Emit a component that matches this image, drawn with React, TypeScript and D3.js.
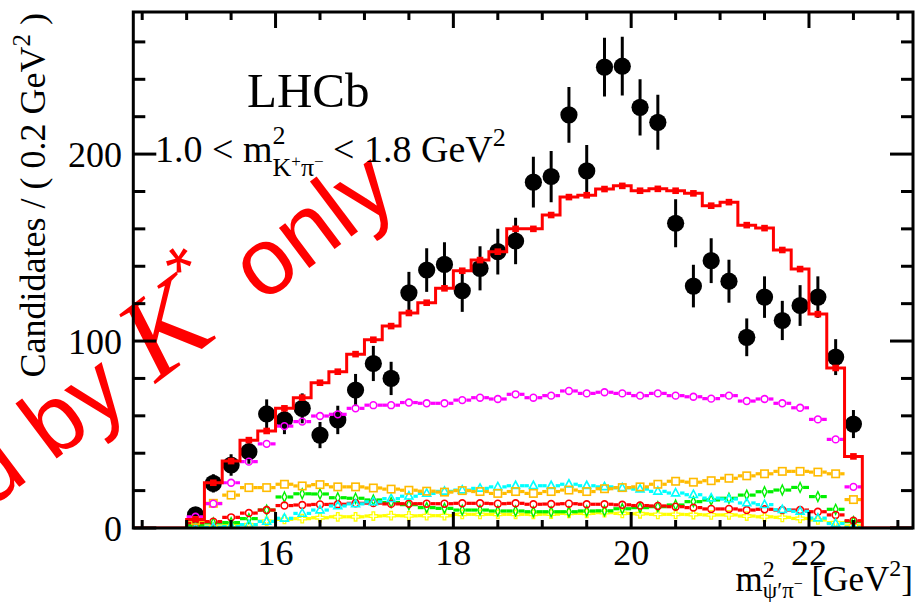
import React from 'react';
import * as d3 from 'd3';

const binCenters = [15.1, 15.3, 15.5, 15.7, 15.9, 16.1, 16.3, 16.5, 16.7, 16.9, 17.1, 17.3, 17.5, 17.7, 17.9, 18.1, 18.3, 18.5, 18.7, 18.9, 19.1, 19.3, 19.5, 19.7, 19.9, 20.1, 20.3, 20.5, 20.7, 20.9, 21.1, 21.3, 21.5, 21.7, 21.9, 22.1, 22.3, 22.5];
const binWidth = 0.2;

const dataCounts = [7, 23.9, 33.7, 40.8, 61, 57.8, 64, 49.7, 57.8, 73.8, 88, 80, 125.8, 138, 141, 126.9, 138.9, 147.8, 153.5, 185, 188, 221, 191, 246.5, 247, 225, 217, 163, 129.4, 143, 132, 102, 123.5, 111, 119, 123.5, 91.4, 55.6];
const dataErrors = [2.6, 4.9, 5.8, 6.4, 7.8, 7.6, 8, 7, 7.6, 8.6, 9.4, 8.9, 11.2, 11.7, 11.9, 11.3, 11.8, 12.2, 12.4, 13.6, 13.7, 14.9, 13.8, 15.7, 15.7, 15, 14.7, 12.8, 11.4, 12, 11.5, 10.1, 11.1, 10.5, 10.9, 11.1, 9.6, 7.5];

const totalFit = [4.6, 24.2, 35.8, 47, 51.9, 64, 69.7, 77.7, 83.6, 93, 100.7, 108, 115, 120.5, 128.2, 137.6, 143.3, 147.8, 160, 160, 167.4, 177, 178, 181.3, 183, 180.4, 181.4, 180.4, 179, 172.4, 174.3, 162, 160.4, 148.7, 138.5, 114.4, 85.6, 38.3];

const compMagenta = [6, 13, 24.2, 35.5, 45, 54.5, 56.9, 59.9, 60.8, 64, 65.7, 65.7, 67.1, 66.7, 66.7, 68.4, 69.7, 69, 71.5, 69.7, 70.8, 73.3, 72, 72.6, 72, 70.8, 72, 70.8, 70.2, 69.2, 70.8, 67.9, 69, 66.7, 64.3, 58.1, 47.4, 22];
const compOrange = [4, 13.2, 17.6, 21.6, 21.6, 23.4, 22.5, 23.2, 22, 22, 21.4, 20.8, 20.2, 19.7, 19.2, 20, 19.5, 18.5, 19.5, 18.5, 19.5, 20.3, 19.5, 21, 21.6, 22, 23.4, 25, 24.5, 25.3, 26.6, 27.9, 29, 30.3, 30.3, 29.9, 29, 15.2];
const compGreen = [1.5, 2.7, 2.9, 5, 9.6, 16.6, 18.3, 18.2, 16.2, 15.9, 15, 13.6, 12.5, 10.9, 10.5, 9.6, 9.6, 9.1, 9.1, 8.7, 8.7, 8.7, 9.1, 9.2, 10.3, 10.9, 11.4, 12.3, 14.1, 15, 15.9, 17.6, 19.4, 20.3, 21.7, 16.8, 10, 3.4];
const compCyan = [0, 0.3, 0.8, 1.8, 3.5, 5.2, 7.8, 9.6, 11.8, 12.9, 14, 15.7, 17, 18.5, 19.6, 20.3, 21.2, 22, 22.6, 22.6, 22.6, 23.4, 22.6, 22, 21.5, 20.8, 19.6, 18.7, 17.8, 16, 15.5, 13.4, 12.5, 9.8, 8.9, 5.3, 2.4, 0.3];
const compRed = [2.9, 3.4, 5.7, 8, 9.6, 12, 12.3, 12.6, 12.7, 13.2, 13.3, 12.9, 13, 13, 13, 13.2, 13.2, 13, 13.2, 12.7, 12.8, 13, 12.7, 12.7, 12.4, 12, 11.8, 11.4, 10.9, 10.2, 10.2, 9.6, 10, 9.6, 9.6, 8.7, 7, 3.9];
const compYellow = [0.3, 0.6, 1.3, 1.8, 3.6, 4.6, 5, 5.5, 6, 6, 6.4, 6.6, 6.5, 6.6, 6.6, 7.3, 7.3, 7.3, 7.3, 7.3, 7.4, 7.8, 7.8, 8.2, 7.8, 7.6, 7.3, 7.3, 7.2, 7, 7, 6.4, 6, 5.7, 5.1, 4.3, 2.9, 1.1];

const xDomain = [14.4, 23.17];
const yDomain = [0, 276];

const SERIF = '"Liberation Serif", "Times New Roman", serif';
const SANS = '"Liberation Sans", Arial, sans-serif';

type MarkerKind = 'circle' | 'square' | 'triangle' | 'diamond' | 'cross';

const components: { values: number[]; color: string; marker: MarkerKind }[] = [
  { values: compYellow, color: '#ffff00', marker: 'cross' },
  { values: compGreen, color: '#00f000', marker: 'diamond' },
  { values: compRed, color: '#ff0000', marker: 'circle' },
  { values: compCyan, color: '#00ffff', marker: 'triangle' },
  { values: compOrange, color: '#ffbb00', marker: 'square' },
  { values: compMagenta, color: '#ff00ff', marker: 'circle' },
];

function markerHalf(kind: MarkerKind) {
  if (kind === 'circle') return 4.2;
  if (kind === 'square') return 4.5;
  if (kind === 'triangle') return 4.5;
  if (kind === 'diamond') return 3;
  return 4.5;
}

function Marker({ kind, cx, cy, color }: { kind: MarkerKind; cx: number; cy: number; color: string }) {
  const sw = 1.6;
  if (kind === 'circle') return <circle cx={cx} cy={cy} r={3.4} fill="none" stroke={color} strokeWidth={sw} />;
  if (kind === 'square') return <rect x={cx - 3.7} y={cy - 3.7} width={7.4} height={7.4} fill="none" stroke={color} strokeWidth={sw} />;
  if (kind === 'triangle')
    return <path d={`M${cx},${cy - 4.5}L${cx + 4},${cy + 2.8}L${cx - 4},${cy + 2.8}Z`} fill="none" stroke={color} strokeWidth={sw} />;
  if (kind === 'diamond')
    return <path d={`M${cx},${cy - 5}L${cx + 2.3},${cy}L${cx},${cy + 5}L${cx - 2.3},${cy}Z`} fill="none" stroke={color} strokeWidth={1.4} />;
  const a = 1.3, b = 4.2;
  const d = `M${cx - a},${cy - b}H${cx + a}V${cy - a}H${cx + b}V${cy + a}H${cx + a}V${cy + b}H${cx - a}V${cy + a}H${cx - b}V${cy - a}H${cx - a}Z`;
  return <path d={d} fill="none" stroke={color} strokeWidth={1.3} />;
}

export default function App() {
  const left = 133.3, right = 913, top = 12, bottom = 528;
  const x = d3.scaleLinear().domain(xDomain).range([left, right]);
  const y = d3.scaleLinear().domain(yDomain).range([bottom, top]);

  const xMajor = x.ticks(5);
  const xMinor = x.ticks(20).filter((t) => !xMajor.includes(t));
  const yMajor = y.ticks(3);
  const yMinor = y.ticks(15).filter((t) => !yMajor.includes(t));

  const histPts: [number, number][] = [[xDomain[0], 0]];
  binCenters.forEach((c, i) => histPts.push([c - binWidth / 2, totalFit[i]]));
  histPts.push([binCenters[binCenters.length - 1] + binWidth / 2, 0]);
  histPts.push([xDomain[1], 0]);
  const histLine = d3
    .line<[number, number]>()
    .x((d) => x(d[0]))
    .y((d) => y(d[1]))
    .curve(d3.curveStepAfter);

  const axisW = 3;

  return (
    <svg width={915} height={602} style={{ position: 'absolute', left: 0, top: 0, background: '#fff' }}>
      <defs>
        <clipPath id="plotclip">
          <rect x={left} y={top} width={right - left} height={bottom - top} />
        </clipPath>
      </defs>
      <rect x={0} y={0} width={915} height={602} fill="#fff" />

      {/* watermark */}
      <g transform="translate(401,199) rotate(-37)">
        <text x={0} y={0} textAnchor="end" fill="#ff0000" fontFamily={SANS} fontSize={95}>
          <tspan>Fitted by </tspan>
          <tspan fontFamily={SERIF} fontStyle="italic" fontSize={118} dx={4}>K</tspan>
          <tspan dy={-50} fontSize={70}>*</tspan>
          <tspan dy={50}> only</tspan>
        </text>
      </g>

      <g clipPath="url(#plotclip)">
        {/* data points */}
        {binCenters.map((c, i) => (
          <g key={'d' + i}>
            <line x1={x(c)} x2={x(c)} y1={y(dataCounts[i] - dataErrors[i])} y2={y(dataCounts[i] + dataErrors[i])} stroke="#000" strokeWidth={3} />
            <circle cx={x(c)} cy={y(dataCounts[i])} r={8.6} fill="#000" />
          </g>
        ))}

        {/* components */}
        {components.map((comp, ci) => {
          const h = markerHalf(comp.marker);
          return (
            <g key={'c' + ci}>
              {binCenters.map((c, i) => {
                const cx = x(c), cy = y(comp.values[i]);
                const x0 = x(c - binWidth / 2), x1 = x(c + binWidth / 2);
                return (
                  <g key={i}>
                    <line x1={x0} x2={cx - h} y1={cy} y2={cy} stroke={comp.color} strokeWidth={3.2} />
                    <line x1={cx + h} x2={x1} y1={cy} y2={cy} stroke={comp.color} strokeWidth={3.2} />
                    <Marker kind={comp.marker} cx={cx} cy={cy} color={comp.color} />
                  </g>
                );
              })}
            </g>
          );
        })}

        {/* total fit histogram */}
        <path d={histLine(histPts) || ''} fill="none" stroke="#ff0000" strokeWidth={3} />
        {binCenters.map((c, i) => (
          <rect key={'t' + i} x={x(c) - 3.3} y={y(totalFit[i]) - 3.3} width={6.6} height={6.6} fill="#ff0000" />
        ))}
      </g>

      {/* frame */}
      <rect x={left} y={top} width={right - left} height={bottom - top} fill="none" stroke="#000" strokeWidth={axisW} />

      {/* x ticks */}
      {xMajor.map((t) => (
        <g key={'xM' + t}>
          <line x1={x(t)} x2={x(t)} y1={bottom} y2={bottom - 16} stroke="#000" strokeWidth={axisW} />
          <line x1={x(t)} x2={x(t)} y1={top} y2={top + 16} stroke="#000" strokeWidth={axisW} />
          <text x={x(t)} y={565} textAnchor="middle" fontFamily={SERIF} fontSize={36}>{t}</text>
        </g>
      ))}
      {xMinor.map((t) => (
        <g key={'xm' + t}>
          <line x1={x(t)} x2={x(t)} y1={bottom} y2={bottom - 8} stroke="#000" strokeWidth={axisW} />
          <line x1={x(t)} x2={x(t)} y1={top} y2={top + 8} stroke="#000" strokeWidth={axisW} />
        </g>
      ))}

      {/* y ticks */}
      {yMajor.map((t) => (
        <g key={'yM' + t}>
          <line x1={left} x2={left + 23} y1={y(t)} y2={y(t)} stroke="#000" strokeWidth={axisW} />
          <line x1={right} x2={right - 23} y1={y(t)} y2={y(t)} stroke="#000" strokeWidth={axisW} />
          <text x={122} y={y(t) + 12.5} textAnchor="end" fontFamily={SERIF} fontSize={36}>{t}</text>
        </g>
      ))}
      {yMinor.map((t) => (
        <g key={'ym' + t}>
          <line x1={left} x2={left + 12} y1={y(t)} y2={y(t)} stroke="#000" strokeWidth={axisW} />
          <line x1={right} x2={right - 12} y1={y(t)} y2={y(t)} stroke="#000" strokeWidth={axisW} />
        </g>
      ))}

      {/* y axis title */}
      <text transform="translate(45,13) rotate(-90)" textAnchor="end" fontFamily={SERIF} fontSize={36}>
        <tspan>Candidates / ( 0.2 GeV</tspan>
        <tspan fontSize={25} dy={-15}>2</tspan>
        <tspan dy={15}> )</tspan>
      </text>

      {/* x axis title */}
      <text x={913} y={591} textAnchor="end" fontFamily={SERIF} fontSize={35}>
        <tspan>m</tspan>
        <tspan fontSize={24} dy={-14}>2</tspan>
        <tspan fontSize={23} dx={-12} dy={21}>ψ′π</tspan>
        <tspan fontSize={16} dy={-9}>−</tspan>
        <tspan dy={2}> [GeV</tspan>
        <tspan fontSize={24} dy={-15}>2</tspan>
        <tspan dy={15}>]</tspan>
      </text>

      {/* LHCb label */}
      <text x={247} y={107} fontFamily={SERIF} fontSize={49}>LHCb</text>

      {/* cut label */}
      <text x={155} y={162} fontFamily={SERIF} fontSize={38}>
        <tspan>1.0 &lt; m</tspan>
        <tspan fontSize={26} dy={-18}>2</tspan>
        <tspan fontSize={26} dx={-13} dy={32}>K</tspan>
        <tspan fontSize={17} dy={-9}>+</tspan>
        <tspan fontSize={26} dy={9}>π</tspan>
        <tspan fontSize={17} dy={-9}>−</tspan>
        <tspan dy={-5}> &lt; 1.8 GeV</tspan>
        <tspan fontSize={26} dy={-16}>2</tspan>
      </text>
    </svg>
  );
}
